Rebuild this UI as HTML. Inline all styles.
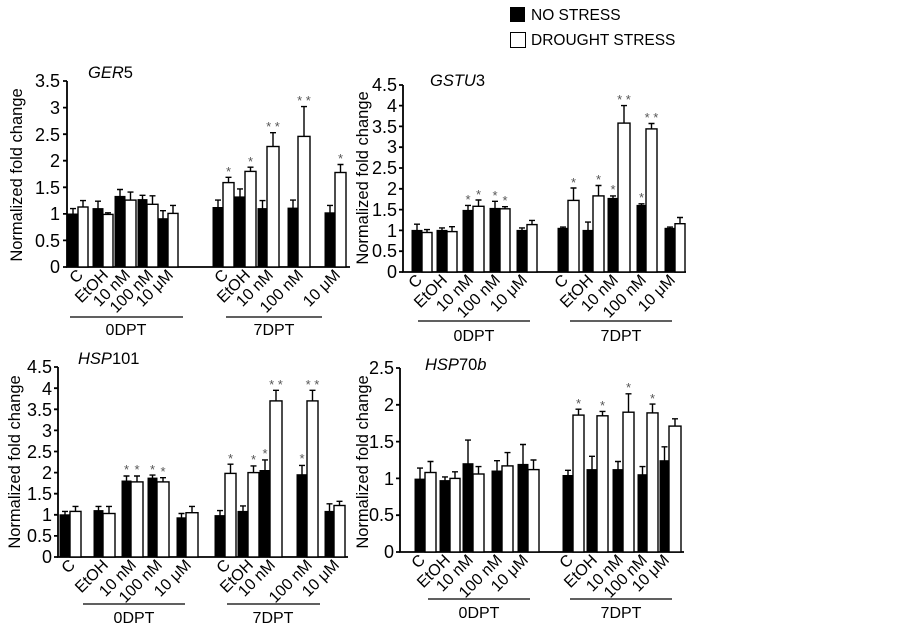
<!DOCTYPE html>
<html><head><meta charset="utf-8"><style>
html,body{margin:0;padding:0;background:#fff;}
svg{display:block;font-family:"Liberation Sans",Arial,sans-serif;}
.tk{font-size:18px;text-anchor:end;}
.xl{font-size:16px;text-anchor:end;}
.yt{font-size:16.5px;text-anchor:middle;}
.st{font-size:13px;fill:#555;text-anchor:middle;}
.gl{font-size:16px;text-anchor:middle;}
.b{fill:#000;stroke:#000;stroke-width:1;}
.w{fill:#fff;stroke:#000;stroke-width:1.4;}
.e{stroke:#000;stroke-width:1.4;fill:none;}
.ax{stroke:#000;stroke-width:1.8;fill:none;}
.ul{stroke:#000;stroke-width:1.3;}
</style></head><body>
<svg width="903" height="627" viewBox="0 0 903 627">
<rect x="510" y="7" width="15" height="15" fill="#000"/>
<text x="531" y="20" font-size="15.5">NO STRESS</text>
<rect x="510.5" y="32.5" width="15" height="15" fill="#fff" stroke="#000"/>
<text x="531" y="45" font-size="15.5">DROUGHT STRESS</text>

<!-- PANEL 1 -->
<text x="88" y="78" font-size="16.5"><tspan font-style="italic">GER</tspan>5</text>
<text class="yt" transform="translate(22,175) rotate(-90)">Normalized fold change</text>
<path class="ax" d="M67 81 V267 H350"/>
<path class="ax" d="M63 267H67M63 240.4H67M63 213.9H67M63 187.3H67M63 160.7H67M63 134.2H67M63 107.6H67M63 81H67"/>
<text class="tk" x="60" y="273">0</text><text class="tk" x="60" y="247">0.5</text><text class="tk" x="60" y="220">1</text><text class="tk" x="60" y="194">1.5</text><text class="tk" x="60" y="167">2</text><text class="tk" x="60" y="141">2.5</text><text class="tk" x="60" y="114">3</text><text class="tk" x="60" y="87">3.5</text>
<rect class="b" x="68" y="214" width="10" height="53"/><rect class="w" x="78" y="207" width="10" height="60"/>
<rect class="b" x="93" y="208.6" width="10" height="58.4"/><rect class="w" x="103" y="214.4" width="10" height="52.6"/>
<rect class="b" x="115" y="196.4" width="10" height="70.6"/><rect class="w" x="125" y="200.1" width="11" height="66.9"/>
<rect class="b" x="138" y="199.6" width="9" height="67.4"/><rect class="w" x="147" y="204.3" width="11" height="62.7"/>
<rect class="b" x="158" y="218.7" width="10" height="48.3"/><rect class="w" x="168" y="213.4" width="10" height="53.6"/>
<rect class="b" x="213" y="207.5" width="10" height="59.5"/><rect class="w" x="223" y="182.6" width="11" height="84.4"/>
<rect class="b" x="235" y="196.9" width="10" height="70.1"/><rect class="w" x="245" y="171.4" width="11" height="95.6"/>
<rect class="b" x="258" y="208.6" width="9" height="58.4"/><rect class="w" x="267" y="146.5" width="12" height="120.5"/>
<rect class="b" x="288" y="208.1" width="10" height="58.9"/><rect class="w" x="298" y="136.4" width="12" height="130.6"/>
<rect class="b" x="325" y="212.8" width="10" height="54.2"/><rect class="w" x="335" y="172.5" width="11" height="94.5"/>
<path class="e" d="M73 214V208.6M70 208.6H76 M83 207V200.6M80 200.6H86 M98 208.6V201.2M95 201.2H101 M108 214.4V212.8M105 212.8H111 M120 196.4V189.5M117 189.5H123 M130.5 200.1V192.1M127.5 192.1H133.5 M142.5 199.6V195.3M139.5 195.3H145.5 M152.5 204.3V195.8M149.5 195.8H155.5 M163 218.7V210.7M160 210.7H166 M173 213.4V205.4M170 205.4H176
M218 207.5V200.1M215 200.1H221 M228.5 182.6V177.3M225.5 177.3H231.5 M240 196.9V188.9M237 188.9H243 M250.5 171.4V167.2M247.5 167.2H253.5 M262.5 208.6V200.6M259.5 200.6H265.5 M273 146.5V132.7M270 132.7H276 M293 208.1V200.1M290 200.1H296 M304 136.4V106.6M301 106.6H307 M330 212.8V205.4M327 205.4H333 M340.5 172.5V164.5M337.5 164.5H343.5"/>
<text class="st" x="228.5" y="176">*</text><text class="st" x="250.5" y="166">*</text><text class="st" x="273" y="131">* *</text><text class="st" x="304" y="105">* *</text><text class="st" x="340.5" y="163">*</text>
<g class="xl">
<text transform="translate(84,276) rotate(-45)">C</text><text transform="translate(109,276) rotate(-45)">EtOH</text><text transform="translate(131,276) rotate(-45)">10 nM</text><text transform="translate(154,276) rotate(-45)">100 nM</text><text transform="translate(174,276) rotate(-45)">10 μM</text>
<text transform="translate(229,276) rotate(-45)">C</text><text transform="translate(251,276) rotate(-45)">EtOH</text><text transform="translate(274,276) rotate(-45)">10 nM</text><text transform="translate(304,276) rotate(-45)">100 nM</text><text transform="translate(341,276) rotate(-45)">10 μM</text>
</g>
<path class="ul" d="M70 317H183M226 317H322"/>
<text class="gl" x="126" y="335">0DPT</text><text class="gl" x="274" y="335">7DPT</text>

<!-- PANEL 2 -->
<text x="430" y="86" font-size="16.5"><tspan font-style="italic">GSTU</tspan>3</text>
<text class="yt" transform="translate(368,178) rotate(-90)">Normalized fold change</text>
<path class="ax" d="M403 85V272H686"/>
<path class="ax" d="M399 272H403M399 251.2H403M399 230.4H403M399 209.6H403M399 188.8H403M399 168H403M399 147.2H403M399 126.4H403M399 105.6H403M399 85H403"/>
<text class="tk" x="397" y="278">0</text><text class="tk" x="397" y="257">0.5</text><text class="tk" x="397" y="237">1</text><text class="tk" x="397" y="216">1.5</text><text class="tk" x="397" y="195">2</text><text class="tk" x="397" y="174">2.5</text><text class="tk" x="397" y="153">3</text><text class="tk" x="397" y="133">3.5</text><text class="tk" x="397" y="112">4</text><text class="tk" x="397" y="91">4.5</text>
<rect class="b" x="412" y="230.4" width="10" height="41.6"/><rect class="w" x="422" y="232.5" width="10" height="39.5"/>
<rect class="b" x="437" y="230.4" width="10" height="41.6"/><rect class="w" x="447" y="231.6" width="10" height="40.4"/>
<rect class="b" x="463" y="210.4" width="10" height="61.6"/><rect class="w" x="473" y="206.3" width="11" height="65.7"/>
<rect class="b" x="490" y="208.4" width="10" height="63.6"/><rect class="w" x="500" y="208.8" width="10" height="63.2"/>
<rect class="b" x="517" y="230.4" width="10" height="41.6"/><rect class="w" x="527" y="224.6" width="10" height="47.4"/>
<rect class="b" x="558" y="228.3" width="10" height="43.7"/><rect class="w" x="568" y="200.4" width="11" height="71.6"/>
<rect class="b" x="583" y="230.4" width="10" height="41.6"/><rect class="w" x="593" y="195.9" width="11" height="76.1"/>
<rect class="b" x="608" y="198.4" width="10" height="73.6"/><rect class="w" x="618" y="123.1" width="12" height="148.9"/>
<rect class="b" x="637" y="205.4" width="9" height="66.6"/><rect class="w" x="646" y="128.9" width="11" height="143.1"/>
<rect class="b" x="665" y="228.3" width="10" height="43.7"/><rect class="w" x="675" y="223.7" width="10" height="48.3"/>
<path class="e" d="M417 230.4V224.2M414 224.2H420 M427 232.5V229.6M424 229.6H430 M442 230.4V227.9M439 227.9H445 M452 231.6V226.7M449 226.7H455 M468 210.4V205.4M465 205.4H471 M478.5 206.3V200M475.5 200H481.5 M495 208.4V201.3M492 201.3H498 M505 208.8V206.7M502 206.7H508 M522 230.4V227.9M519 227.9H525 M532 224.6V220.4M529 220.4H535
M563 228.3V227.1M560 227.1H566 M573.5 200.4V188M570.5 188H576.5 M588 230.4V222.1M585 222.1H591 M598.5 195.9V185.5M595.5 185.5H601.5 M613 198.4V195.9M610 195.9H616 M624 123.1V105.6M621 105.6H627 M641.5 205.4V203.8M638.5 203.8H644.5 M651.5 128.9V123.5M648.5 123.5H654.5 M670 228.3V227.1M667 227.1H673 M680 223.7V217.5M677 217.5H683"/>
<text class="st" x="468" y="204">*</text><text class="st" x="478.5" y="199">*</text><text class="st" x="495" y="200">*</text><text class="st" x="505" y="205">*</text>
<text class="st" x="573.5" y="187">*</text><text class="st" x="598.5" y="184">*</text><text class="st" x="613" y="194">*</text><text class="st" x="624" y="104">* *</text><text class="st" x="641.5" y="202">*</text><text class="st" x="651.5" y="122">* *</text>
<g class="xl">
<text transform="translate(423,281) rotate(-45)">C</text><text transform="translate(448,281) rotate(-45)">EtOH</text><text transform="translate(474,281) rotate(-45)">10 nM</text><text transform="translate(501,281) rotate(-45)">100 nM</text><text transform="translate(528,281) rotate(-45)">10 μM</text>
<text transform="translate(569,281) rotate(-45)">C</text><text transform="translate(594,281) rotate(-45)">EtOH</text><text transform="translate(619,281) rotate(-45)">10 nM</text><text transform="translate(647,281) rotate(-45)">100 nM</text><text transform="translate(676,281) rotate(-45)">10 μM</text>
</g>
<path class="ul" d="M418 321H530M570 321H672"/>
<text class="gl" x="474" y="341">0DPT</text><text class="gl" x="621" y="341">7DPT</text>

<!-- PANEL 3 -->
<text x="78" y="364" font-size="16.5"><tspan font-style="italic">HSP</tspan>101</text>
<text class="yt" transform="translate(20,462) rotate(-90)">Normalized fold change</text>
<path class="ax" d="M58 367V557H348"/>
<path class="ax" d="M54 557H58M54 535.9H58M54 514.8H58M54 493.7H58M54 472.6H58M54 451.5H58M54 430.4H58M54 409.3H58M54 388.2H58M54 367H58"/>
<text class="tk" x="52" y="563">0</text><text class="tk" x="52" y="542">0.5</text><text class="tk" x="52" y="521">1</text><text class="tk" x="52" y="500">1.5</text><text class="tk" x="52" y="479">2</text><text class="tk" x="52" y="458">2.5</text><text class="tk" x="52" y="437">3</text><text class="tk" x="52" y="416">3.5</text><text class="tk" x="52" y="395">4</text><text class="tk" x="52" y="373">4.5</text>
<rect class="b" x="60" y="514.8" width="10" height="42.2"/><rect class="w" x="70" y="511.4" width="11" height="45.6"/>
<rect class="b" x="94" y="510.6" width="9" height="46.4"/><rect class="w" x="103" y="513.5" width="12" height="43.5"/>
<rect class="b" x="122" y="481" width="9" height="76"/><rect class="w" x="131" y="481.9" width="12" height="75.1"/>
<rect class="b" x="148" y="478.1" width="9" height="78.9"/><rect class="w" x="157" y="481.9" width="12" height="75.1"/>
<rect class="b" x="177" y="517.8" width="9" height="39.2"/><rect class="w" x="186" y="512.7" width="12" height="44.3"/>
<rect class="b" x="215" y="515.6" width="10" height="41.4"/><rect class="w" x="225" y="473.4" width="11" height="83.6"/>
<rect class="b" x="238" y="511.4" width="10" height="45.6"/><rect class="w" x="248" y="472.6" width="11" height="84.4"/>
<rect class="b" x="260" y="470.5" width="10" height="86.5"/><rect class="w" x="270" y="400.9" width="12" height="156.1"/>
<rect class="b" x="297" y="474.7" width="10" height="82.3"/><rect class="w" x="307" y="400.9" width="11" height="156.1"/>
<rect class="b" x="325" y="511.4" width="9" height="45.6"/><rect class="w" x="334" y="505.5" width="11" height="51.5"/>
<path class="e" d="M65 514.8V511.4M62 511.4H68 M75.5 511.4V506.4M72.5 506.4H78.5 M98.5 510.6V506.4M95.5 506.4H101.5 M109 513.5V506.4M106 506.4H112 M126.5 481V476M123.5 476H129.5 M137 481.9V476M134 476H140 M152.5 478.1V475.1M149.5 475.1H155.5 M163 481.9V477.7M160 477.7H166 M181.5 517.8V513.5M178.5 513.5H184.5 M192 512.7V506.4M189 506.4H195
M220 515.6V510.6M217 510.6H223 M230.5 473.4V464.2M227.5 464.2H233.5 M243 511.4V505.9M240 505.9H246 M253.5 472.6V465.9M250.5 465.9H256.5 M265 470.5V459.9M262 459.9H268 M276 400.9V390.3M273 390.3H279 M302 474.7V465.4M299 465.4H305 M312.5 400.9V390.3M309.5 390.3H315.5 M329.5 511.4V503.8M326.5 503.8H332.5 M339.5 505.5V501.3M336.5 501.3H342.5"/>
<text class="st" x="126.5" y="474">*</text><text class="st" x="137" y="474">*</text><text class="st" x="152.5" y="474">*</text><text class="st" x="163" y="476">*</text>
<text class="st" x="230.5" y="463">*</text><text class="st" x="253.5" y="464">*</text><text class="st" x="265" y="458">*</text><text class="st" x="276" y="389">* *</text><text class="st" x="302" y="463">*</text><text class="st" x="312.5" y="389">* *</text>
<g class="xl">
<text transform="translate(76,566) rotate(-45)">C</text><text transform="translate(109,566) rotate(-45)">EtOH</text><text transform="translate(137,566) rotate(-45)">10 nM</text><text transform="translate(163,566) rotate(-45)">100 nM</text><text transform="translate(192,566) rotate(-45)">10 μM</text>
<text transform="translate(231,566) rotate(-45)">C</text><text transform="translate(254,566) rotate(-45)">EtOH</text><text transform="translate(276,566) rotate(-45)">10 nM</text><text transform="translate(313,566) rotate(-45)">100 nM</text><text transform="translate(340,566) rotate(-45)">10 μM</text>
</g>
<path class="ul" d="M83 604H185M227 604H320"/>
<text class="gl" x="134" y="623">0DPT</text><text class="gl" x="273" y="623">7DPT</text>

<!-- PANEL 4 -->
<text x="425" y="370" font-size="16.5" font-style="italic">HSP<tspan font-style="normal">70</tspan>b</text>
<text class="yt" transform="translate(368,462) rotate(-90)">Normalized fold change</text>
<path class="ax" d="M400 368V552H684"/>
<path class="ax" d="M396 552H400M396 515.2H400M396 478.4H400M396 441.6H400M396 404.8H400M396 368H400"/>
<text class="tk" x="394" y="558">0</text><text class="tk" x="394" y="521">0.5</text><text class="tk" x="394" y="485">1</text><text class="tk" x="394" y="448">1.5</text><text class="tk" x="394" y="411">2</text><text class="tk" x="394" y="374">2.5</text>
<rect class="b" x="415" y="479.1" width="10" height="72.9"/><rect class="w" x="425" y="472.5" width="11" height="79.5"/>
<rect class="b" x="440" y="480.6" width="10" height="71.4"/><rect class="w" x="450" y="478.4" width="10" height="73.6"/>
<rect class="b" x="463" y="463.7" width="10" height="88.3"/><rect class="w" x="473" y="474" width="11" height="78"/>
<rect class="b" x="492" y="471" width="10" height="81"/><rect class="w" x="502" y="465.9" width="11" height="86.1"/>
<rect class="b" x="518" y="464.4" width="10" height="87.6"/><rect class="w" x="528" y="469.6" width="11" height="82.4"/>
<rect class="b" x="563" y="475.5" width="10" height="76.5"/><rect class="w" x="573" y="415.1" width="11" height="136.9"/>
<rect class="b" x="587" y="469.6" width="10" height="82.4"/><rect class="w" x="597" y="415.8" width="11" height="136.2"/>
<rect class="b" x="613" y="469.6" width="10" height="82.4"/><rect class="w" x="623" y="412.2" width="11" height="139.8"/>
<rect class="b" x="638" y="474.7" width="9" height="77.3"/><rect class="w" x="647" y="412.9" width="11" height="139.1"/>
<rect class="b" x="660" y="460.7" width="9" height="91.3"/><rect class="w" x="669" y="426.1" width="12" height="125.9"/>
<path class="e" d="M420 479.1V468.1M417 468.1H423 M430.5 472.5V461.5M427.5 461.5H433.5 M445 480.6V476.9M442 476.9H448 M455 478.4V471.8M452 471.8H458 M468 463.7V440.1M465 440.1H471 M478.5 474V466.6M475.5 466.6H481.5 M497 471V460.7M494 460.7H500 M507.5 465.9V452.6M504.5 452.6H510.5 M523 464.4V444.5M520 444.5H526 M533.5 469.6V460M530.5 460H536.5
M568 475.5V470.3M565 470.3H571 M578.5 415.1V409.2M575.5 409.2H581.5 M592 469.6V456.3M589 456.3H595 M602.5 415.8V411.4M599.5 411.4H605.5 M618 469.6V461.5M615 461.5H621 M628.5 412.2V393.8M625.5 393.8H631.5 M642.5 474.7V466.6M639.5 466.6H645.5 M652.5 412.9V404.1M649.5 404.1H655.5 M664.5 460.7V446.8M661.5 446.8H667.5 M675 426.1V418.8M672 418.8H678"/>
<text class="st" x="578.5" y="408">*</text><text class="st" x="602.5" y="410">*</text><text class="st" x="628.5" y="392">*</text><text class="st" x="652.5" y="403">*</text>
<g class="xl">
<text transform="translate(426,561) rotate(-45)">C</text><text transform="translate(451,561) rotate(-45)">EtOH</text><text transform="translate(474,561) rotate(-45)">10 nM</text><text transform="translate(503,561) rotate(-45)">100 nM</text><text transform="translate(529,561) rotate(-45)">10 μM</text>
<text transform="translate(574,561) rotate(-45)">C</text><text transform="translate(598,561) rotate(-45)">EtOH</text><text transform="translate(624,561) rotate(-45)">10 nM</text><text transform="translate(648,561) rotate(-45)">100 nM</text><text transform="translate(670,561) rotate(-45)">10 μM</text>
</g>
<path class="ul" d="M428 599H530M570 599H672"/>
<text class="gl" x="479" y="618">0DPT</text><text class="gl" x="621" y="618">7DPT</text>
</svg>
</body></html>
